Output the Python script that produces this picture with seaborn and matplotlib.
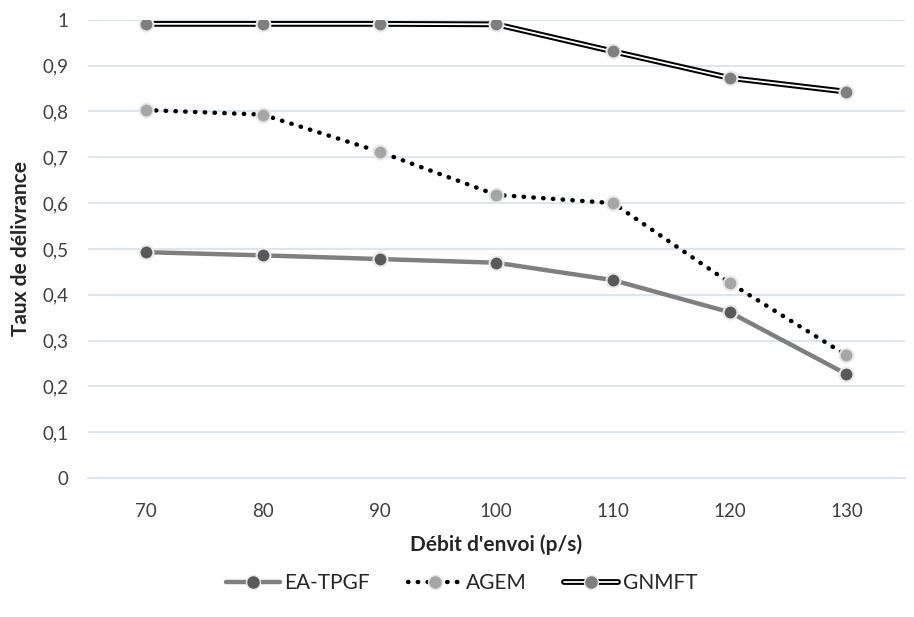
import numpy as np
import pandas as pd
import matplotlib
matplotlib.use('Agg')
import matplotlib.pyplot as plt
import seaborn as sns
from matplotlib.lines import Line2D

debit = ["70", "80", "90", "100", "110", "120", "130"]
ea_tpgf = [0.493, 0.486, 0.478, 0.470, 0.432, 0.362, 0.227]
agem = [0.803, 0.793, 0.712, 0.618, 0.600, 0.426, 0.268]
gnmft = [0.991, 0.991, 0.991, 0.990, 0.931, 0.873, 0.843]
yticks = [0, 0.1, 0.2, 0.3, 0.4, 0.5, 0.6, 0.7, 0.8, 0.9, 1]
ylabels = ["0", "0,1", "0,2", "0,3", "0,4", "0,5", "0,6", "0,7", "0,8", "0,9", "1"]

sns.set_style("white")
plt.rcParams['font.family'] = ['Lato', 'DejaVu Sans']

df = pd.DataFrame({"debit": debit, "EA-TPGF": ea_tpgf, "AGEM": agem, "GNMFT": gnmft})

fig = plt.figure(figsize=(9.14, 6.17), dpi=100)
ax = fig.add_axes([0.096, 0.225, 0.894, 0.743])

grid_c = "#d6e2f0"
for y in yticks:
    ax.axhline(y, color=grid_c, lw=1.2, zorder=0)

# EA-TPGF : trait gris plein
sns.lineplot(data=df, x="debit", y="EA-TPGF", ax=ax, color="#7f7f7f", lw=3.2,
             marker="o", markersize=10, markerfacecolor="#595959",
             markeredgecolor="#e8e8e8", markeredgewidth=1.5, zorder=3)
# AGEM : pointillé noir
sns.lineplot(data=df, x="debit", y="AGEM", ax=ax, color="black", lw=3.2,
             linestyle=(0, (0.1, 2.1)), dash_capstyle="round",
             marker="o", markersize=10, markerfacecolor="#a6a6a6",
             markeredgecolor="#e8e8e8", markeredgewidth=1.5, zorder=3)
# GNMFT : double trait
sns.lineplot(data=df, x="debit", y="GNMFT", ax=ax, color="black", lw=4.2, zorder=3)
sns.lineplot(data=df, x="debit", y="GNMFT", ax=ax, color="white", lw=1.3,
             marker="o", markersize=10, markerfacecolor="#7f7f7f",
             markeredgecolor="#e8e8e8", markeredgewidth=1.5, zorder=4)

ax.set_ylim(0, 1)
ax.set_xlim(-0.5, len(debit) - 0.5)
ax.set_yticks(yticks)
ax.set_yticklabels(ylabels)
for s in ["top", "right", "left"]:
    ax.spines[s].set_visible(False)
ax.spines["bottom"].set_color(grid_c)
ax.spines["bottom"].set_linewidth(1.2)
ax.tick_params(axis="y", length=0, labelsize=13.5, labelcolor="#404040", pad=14)
ax.tick_params(axis="x", length=0, labelsize=13.5, labelcolor="#404040", pad=18)
ax.set_xticks(range(len(debit)))
ax.set_xticklabels(debit)
ax.set_xticks(np.arange(len(debit) + 1) - 0.5, minor=True)
ax.tick_params(axis="x", which="minor", length=6, color=grid_c, width=1.2)

ax.set_xlabel("Débit d'envoi (p/s)", fontsize=15, fontweight="bold", labelpad=10)
ax.set_ylabel("Taux de délivrance", fontsize=15, fontweight="bold", labelpad=8)

h1 = Line2D([], [], color="#7f7f7f", lw=3.2, marker="o", markersize=10,
            markerfacecolor="#595959", markeredgecolor="#e8e8e8")
h2 = Line2D([], [], color="black", lw=3.2, linestyle=(0, (0.1, 2.1)),
            dash_capstyle="round", marker="o", markersize=10,
            markerfacecolor="#a6a6a6", markeredgecolor="#e8e8e8")
h3a = Line2D([], [], color="black", lw=4.2)
h3b = Line2D([], [], color="white", lw=1.3, marker="o", markersize=10,
             markerfacecolor="#7f7f7f", markeredgecolor="#e8e8e8")
fig.legend([h1, h2, (h3a, h3b)], ["EA-TPGF", "AGEM", "GNMFT"],
           loc="center", bbox_to_anchor=(0.505, 0.055), ncol=3, frameon=False,
           fontsize=15, handlelength=2.6, handletextpad=0.2, columnspacing=1.8)

fig.savefig("out.png", dpi=100)
